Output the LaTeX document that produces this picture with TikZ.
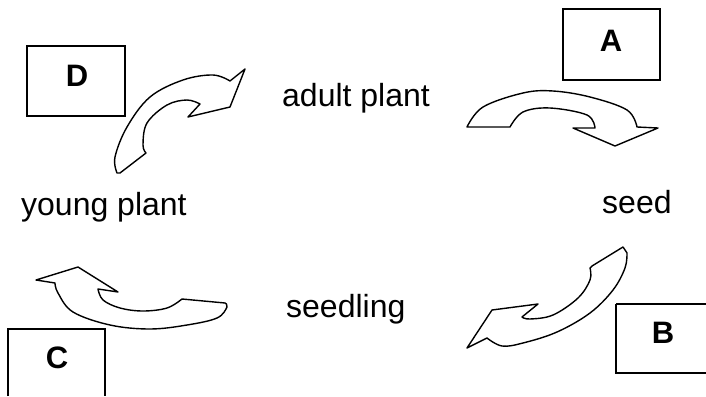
\documentclass[tikz,border=0pt]{standalone}
\usepackage{fontspec}
\setmainfont{Liberation Sans}
\begin{document}
\begin{tikzpicture}[x=1pt,y=-1pt,
  lbl/.style={font=\fontsize{32}{32}\selectfont, anchor=base west, inner sep=0pt},
  letterbox/.style={draw, line width=1.5pt},
  boxletter/.style={font=\fontsize{31}{31}\selectfont\bfseries, inner sep=0pt},
  arrowshape/.style={draw, line width=1.4pt, line join=round, fill=white}]
\useasboundingbox (0,0) rectangle (706,396);
% boxes
\draw[letterbox] (27,46) rectangle (125,116);
\node[boxletter] (D) at (77,76) {D};
\draw[letterbox] (563,9) rectangle (660,80);
\node[boxletter] (A) at (611,41) {A};
\draw[letterbox] (616,304) -- (706,304) (616,304) -- (616,373) -- (706,373);
\node[boxletter] (B) at (663,333) {B};
\draw[letterbox] (8,396) -- (8,329) -- (105,329) -- (105,396);
\node[boxletter] (C) at (57,358) {C};
% labels
\node[lbl] (adult) at (282,106) {adult plant};
\node[lbl] (young) at (21,215) {young plant};
\node[lbl] (seed) at (602,213) {seed};
\node[lbl] (seedling) at (286,317) {seedling};
% arrow D (young plant -> adult plant)
\draw[arrowshape] (117,173) -- plot[smooth, tension=0.6] coordinates {(117,173) (115,157) (127,127) (150,97) (183,80) (213,75) (230,81)}
  -- (245,69) -- (230,107) -- (188,117) -- (200,104)
  -- plot[smooth, tension=0.6] coordinates {(200,104) (187,100) (167,105) (147,123) (143,145) (146,153)} -- (120,173) -- cycle;
% arrow A (adult plant -> seed)
\draw[arrowshape] (467,127) -- plot[smooth, tension=0.6] coordinates {(467,127) (483,107) (523,93) (553,91) (590,97) (627,110) (637,127)}
  -- (658,128) -- (615,146) -- (573,128) -- (595,128)
  -- plot[smooth, tension=0.6] coordinates {(595,128) (587,115) (550,108) (523,112) (510,127)} -- cycle;
% arrow B (seed -> seedling)
\draw[arrowshape] (623,247) -- (627,253) -- plot[smooth, tension=0.6] coordinates {(627,253) (625,268) (613,290) (590,313) (557,332) (523,343) (502,346) (487,338)}
  -- (467,348) -- (492,310) -- (538,304) -- (522,317)
  -- plot[smooth, tension=0.6] coordinates {(522,317) (530,319) (553,315) (578,298) (590,280) (590,268)} -- (592,266) -- cycle;
% arrow C (seedling -> young plant)
\draw[arrowshape] (36,280) -- (78,267) -- (118,292) -- (98,289)
  -- plot[smooth, tension=0.6] coordinates {(98,289) (103,300) (120,308) (143,311) (167,308) (182,299)}
  -- (225,303) -- plot[smooth, tension=0.6] coordinates {(225,303) (227,307) (217,318) (187,325) (150,329) (110,325) (73,312) (58,293) (55,283)} -- cycle;
\end{tikzpicture}
\end{document}
